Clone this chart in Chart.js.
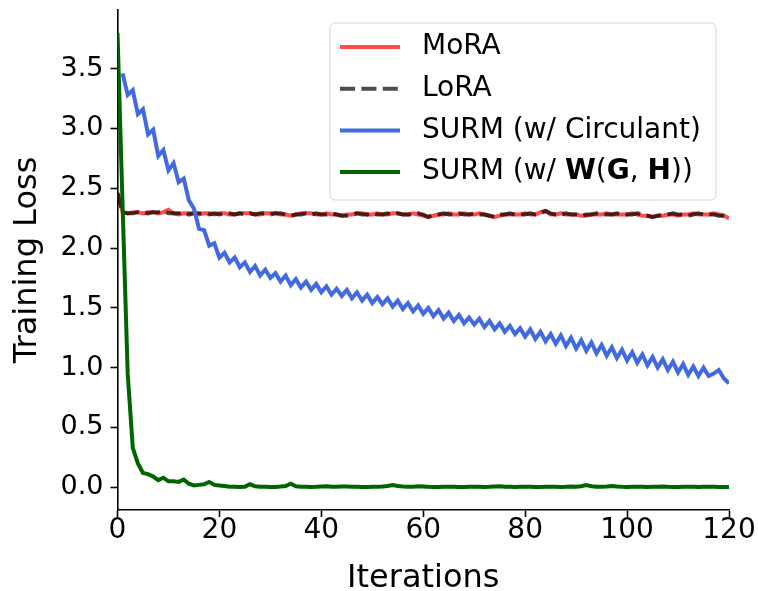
<!DOCTYPE html>
<html>
<head>
<meta charset="utf-8">
<script src="https://cdn.jsdelivr.net/npm/chart.js@4.4.1/dist/chart.umd.min.js"></script>
<style>
  html, body { margin: 0; padding: 0; background: #fff; }
  #wrap { width: 758px; height: 591px; }
</style>
</head>
<body>
<div id="wrap"><canvas id="lossChart" width="758" height="591"></canvas></div>
<script>
// x positions: training iterations 0..120
const ITERATIONS = Array.from({ length: 121 }, (_, i) => i);

const X_TICKS = [0, 20, 40, 60, 80, 100, 120];
const Y_TICKS = [0, 0.5, 1.0, 1.5, 2.0, 2.5, 3.0, 3.5];

const SERIES_NAMES = ['MoRA', 'LoRA', 'SURM (w/ Circulant)', 'SURM (w/ W(G, H))'];

const MORA_LOSS = [
	2.46, 2.30, 2.29, 2.30, 2.30, 2.29, 2.30, 2.30, 2.29, 2.30,
	2.32, 2.29, 2.28, 2.29, 2.29, 2.29, 2.28, 2.29, 2.29, 2.28,
	2.29, 2.29, 2.28, 2.28, 2.29, 2.29, 2.29, 2.28, 2.28, 2.29,
	2.29, 2.29, 2.28, 2.28, 2.27, 2.28, 2.29, 2.29, 2.29, 2.28,
	2.28, 2.29, 2.28, 2.28, 2.27, 2.28, 2.28, 2.29, 2.29, 2.28,
	2.28, 2.29, 2.28, 2.28, 2.29, 2.29, 2.28, 2.28, 2.29, 2.28,
	2.27, 2.26, 2.27, 2.28, 2.28, 2.29, 2.28, 2.28, 2.29, 2.28,
	2.28, 2.29, 2.28, 2.27, 2.26, 2.27, 2.28, 2.28, 2.28, 2.28,
	2.29, 2.28, 2.28, 2.30, 2.31, 2.28, 2.28, 2.29, 2.28, 2.28,
	2.28, 2.27, 2.27, 2.28, 2.28, 2.28, 2.29, 2.28, 2.28, 2.28,
	2.28, 2.29, 2.28, 2.27, 2.27, 2.26, 2.27, 2.27, 2.28, 2.28,
	2.27, 2.28, 2.28, 2.29, 2.28, 2.28, 2.28, 2.29, 2.28, 2.27,
	2.25
];

const LORA_LOSS = [
	2.46, 2.30, 2.29, 2.29, 2.30, 2.30, 2.29, 2.30, 2.30, 2.31,
	2.29, 2.29, 2.29, 2.30, 2.28, 2.29, 2.29, 2.29, 2.28, 2.29,
	2.28, 2.29, 2.29, 2.28, 2.29, 2.28, 2.29, 2.28, 2.29, 2.29,
	2.28, 2.29, 2.29, 2.28, 2.27, 2.28, 2.28, 2.29, 2.28, 2.29,
	2.28, 2.28, 2.29, 2.28, 2.27, 2.27, 2.28, 2.29, 2.28, 2.28,
	2.29, 2.28, 2.28, 2.29, 2.28, 2.29, 2.28, 2.28, 2.28, 2.29,
	2.28, 2.26, 2.28, 2.28, 2.29, 2.28, 2.28, 2.29, 2.28, 2.28,
	2.29, 2.28, 2.28, 2.27, 2.26, 2.28, 2.28, 2.29, 2.28, 2.28,
	2.28, 2.29, 2.28, 2.29, 2.31, 2.29, 2.28, 2.28, 2.29, 2.28,
	2.28, 2.27, 2.28, 2.28, 2.29, 2.28, 2.28, 2.28, 2.29, 2.28,
	2.28, 2.28, 2.29, 2.28, 2.27, 2.26, 2.27, 2.28, 2.28, 2.29,
	2.28, 2.28, 2.27, 2.28, 2.29, 2.28, 2.28, 2.28, 2.27, 2.27,
	2.26
];

const CIRCULANT_LOSS = [
	null, 3.46, 3.28, 3.32, 3.12, 3.16, 2.95, 2.99, 2.77, 2.82,
	2.65, 2.71, 2.55, 2.58, 2.40, 2.33, 2.16, 2.15, 2.02, 2.04,
	1.92, 1.96, 1.88, 1.92, 1.84, 1.88, 1.80, 1.85, 1.77, 1.82,
	1.75, 1.79, 1.72, 1.77, 1.69, 1.74, 1.67, 1.72, 1.65, 1.70,
	1.63, 1.68, 1.61, 1.66, 1.60, 1.65, 1.58, 1.63, 1.56, 1.61,
	1.54, 1.59, 1.53, 1.58, 1.51, 1.56, 1.49, 1.54, 1.47, 1.52,
	1.45, 1.50, 1.43, 1.48, 1.41, 1.46, 1.39, 1.44, 1.37, 1.42,
	1.36, 1.41, 1.34, 1.39, 1.32, 1.37, 1.30, 1.35, 1.28, 1.33,
	1.26, 1.32, 1.24, 1.30, 1.22, 1.28, 1.20, 1.27, 1.18, 1.25,
	1.16, 1.23, 1.14, 1.21, 1.12, 1.19, 1.10, 1.17, 1.08, 1.15,
	1.06, 1.13, 1.04, 1.11, 1.02, 1.09, 1.00, 1.07, 0.98, 1.05,
	0.96, 1.03, 0.94, 1.01, 0.93, 1.00, 0.93, 0.95, 0.98, 0.91,
	0.87
];

const WGH_LOSS = [
	3.80, 2.35, 0.95, 0.33, 0.20, 0.12, 0.11, 0.09, 0.06, 0.08,
	0.05, 0.05, 0.045, 0.065, 0.03, 0.015, 0.02, 0.025, 0.045, 0.02,
	0.015, 0.01, 0.005, 0.005, 0.003, 0.005, 0.025, 0.008, 0.005, 0.004,
	0.003, 0.003, 0.006, 0.01, 0.03, 0.008, 0.005, 0.004, 0.003, 0.004,
	0.006, 0.008, 0.005, 0.004, 0.006, 0.007, 0.005, 0.004, 0.003, 0.003,
	0.004, 0.005, 0.007, 0.01, 0.018, 0.01, 0.006, 0.004, 0.005, 0.008,
	0.006, 0.004, 0.003, 0.003, 0.004, 0.005, 0.004, 0.003, 0.003, 0.004,
	0.005, 0.004, 0.003, 0.004, 0.006, 0.008, 0.005, 0.004, 0.003, 0.004,
	0.005, 0.004, 0.003, 0.003, 0.004, 0.005, 0.004, 0.003, 0.004, 0.006,
	0.005, 0.008, 0.018, 0.008, 0.005, 0.004, 0.006, 0.01, 0.006, 0.004,
	0.003, 0.004, 0.005, 0.004, 0.003, 0.004, 0.005, 0.006, 0.004, 0.003,
	0.003, 0.004, 0.005, 0.004, 0.003, 0.004, 0.005, 0.004, 0.003, 0.003,
	0.003
];

const FONT = 'DejaVu Sans';
const COLORS = ['rgba(255,0,0,0.7)', 'rgba(0,0,0,0.7)', '#4169e1', '#006400'];
const DASHES = [[], [15, 6.4], [], []];

// legend entries; the last one mixes regular and bold pieces like the mathtext label
const LEGEND_PARTS = [
	[[SERIES_NAMES[0], false]],
	[[SERIES_NAMES[1], false]],
	[[SERIES_NAMES[2], false]],
	[['SURM (w/ ', false], ['W', true], ['(', false], ['G', true], [', ', false], ['H', true], ['))', false]]
];

const boxLegend = {
	id: 'boxLegend',
	afterDatasetsDraw (chart) {
		const { ctx, chartArea } = chart;
		const w = 386, h = 177;
		const x0 = chartArea.right - 13 - w;
		const y0 = chartArea.top + 13;
		ctx.save();
		ctx.beginPath();
		ctx.roundRect(x0, y0, w, h, 5);
		ctx.fillStyle = 'rgba(255,255,255,0.8)';
		ctx.fill();
		ctx.lineWidth = 1;
		ctx.strokeStyle = '#d4d4d4';
		ctx.stroke();

		LEGEND_PARTS.forEach((parts, k) => {
			const cy = y0 + 24 + k * 41.7;
			ctx.beginPath();
			ctx.setLineDash(DASHES[k]);
			ctx.strokeStyle = COLORS[k];
			ctx.lineWidth = 4;
			ctx.moveTo(x0 + 10, cy);
			ctx.lineTo(x0 + 70, cy);
			ctx.stroke();
			ctx.setLineDash([]);

			let tx = x0 + 92;
			ctx.fillStyle = '#000';
			ctx.textBaseline = 'middle';
			ctx.textAlign = 'left';
			parts.forEach(([txt, bold]) => {
				ctx.font = (bold ? 'bold ' : '') + '28px "' + FONT + '"';
				ctx.fillText(txt, tx, cy);
				tx += ctx.measureText(txt).width;
			});
		});
		ctx.restore();
	}
};

const datasets = [MORA_LOSS, LORA_LOSS, CIRCULANT_LOSS, WGH_LOSS].map((values, k) => ({
	label: SERIES_NAMES[k],
	data: values,
	borderColor: COLORS[k],
	borderWidth: 4,
	borderDash: DASHES[k],
	pointRadius: 0,
	tension: 0,
	fill: false,
	spanGaps: false,
	order: 4 - k
}));

const axisGrid = {
	display: true,
	drawOnChartArea: false,
	drawTicks: true,
	tickLength: 7,
	tickWidth: 1.6,
	tickColor: '#000'
};

new Chart(document.getElementById('lossChart'), {
	type: 'line',
	data: { labels: ITERATIONS, datasets: datasets },
	options: {
		responsive: false,
		animation: false,
		layout: { padding: { top: 10, right: 29, left: 0, bottom: 0 } },
		plugins: {
			legend: { display: false },
			tooltip: { enabled: false }
		},
		scales: {
			x: {
				type: 'linear',
				min: 0,
				max: 120,
				afterBuildTicks: (scale) => { scale.ticks = X_TICKS.map(v => ({ value: v })); },
				afterFit: (scale) => {
					scale.height = 81;
					scale.paddingLeft = 0;
					scale.paddingRight = 0;
				},
				grid: axisGrid,
				border: { display: true, color: '#000', width: 1.6 },
				ticks: {
					color: '#000',
					padding: 0,
					maxRotation: 0,
					font: { family: FONT, size: 28, lineHeight: 1 }
				},
				title: {
					display: true,
					text: 'Iterations',
					color: '#000',
					padding: { top: 0, bottom: -4 },
					font: { family: FONT, size: 32, lineHeight: 1 }
				}
			},
			y: {
				type: 'linear',
				min: -0.19,
				max: 3.99,
				afterBuildTicks: (scale) => { scale.ticks = Y_TICKS.map(v => ({ value: v })); },
				afterFit: (scale) => {
					scale.width = 117.5;
					scale.paddingTop = 0;
					scale.paddingBottom = 0;
				},
				grid: axisGrid,
				border: { display: true, color: '#000', width: 1.6 },
				ticks: {
					color: '#000',
					padding: 7,
					callback: (v) => Number(v).toFixed(1),
					font: { family: FONT, size: 27, lineHeight: 1 }
				},
				title: {
					display: true,
					text: 'Training Loss',
					color: '#000',
					padding: { top: 12, bottom: 0 },
					font: { family: FONT, size: 32, lineHeight: 1 }
				}
			}
		}
	},
	plugins: [boxLegend]
});
</script>
</body>
</html>
